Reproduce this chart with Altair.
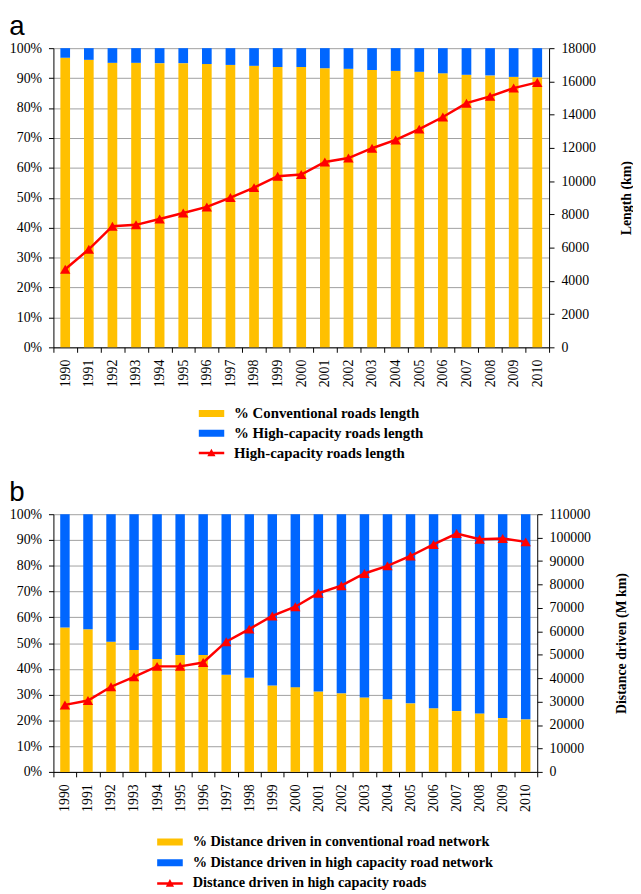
import altair as alt
import pandas as pd

years = ["1990", "1991", "1992", "1993", "1994", "1995", "1996", "1997", "1998", "1999", "2000",
         "2001", "2002", "2003", "2004", "2005", "2006", "2007", "2008", "2009", "2010"]

# Panel a
conv_len_pct = [96.8, 96.1, 95.1, 95.1, 95.0, 95.0, 94.7, 94.4, 94.1, 93.7, 93.7,
                93.3, 93.1, 92.7, 92.4, 92.1, 91.6, 91.1, 90.9, 90.4, 90.3]
high_len_pct = [3.2, 3.9, 4.9, 4.9, 5.0, 5.0, 5.3, 5.6, 5.9, 6.3, 6.3,
                6.7, 6.9, 7.3, 7.6, 7.9, 8.4, 8.9, 9.1, 9.6, 9.7]
high_len_km = [4700, 5900, 7290, 7370, 7720, 8080, 8450, 9010, 9610, 10300, 10400,
               11150, 11390, 11980, 12480, 13130, 13860, 14690, 15100, 15600, 15940]
names_a = ["% Conventional roads length", "% High-capacity roads length", "High-capacity roads length"]

# Panel b
conv_dist_pct = [56.0, 55.4, 50.5, 47.3, 43.8, 45.4, 45.4, 37.7, 36.5, 33.5, 32.9,
                 31.2, 30.5, 28.9, 28.2, 26.6, 24.7, 23.6, 22.7, 20.9, 20.4]
high_dist_pct = [44.0, 44.6, 49.5, 52.7, 56.2, 54.6, 54.6, 62.3, 63.5, 66.5, 67.1,
                 68.8, 69.5, 71.1, 71.8, 73.4, 75.3, 76.4, 77.3, 79.1, 79.6]
high_dist_mkm = [28600, 30450, 36360, 40570, 45050, 45050, 46700, 55590, 60950, 66560, 70500,
                 76260, 79500, 84700, 87940, 92160, 97090, 101730, 99330, 99610, 98190]
names_b = ["% Distance driven in conventional road network",
           "% Distance driven in high capacity road network",
           "Distance driven in high capacity roads"]

pct_ticks = [0, 0.1, 0.2, 0.3, 0.4, 0.5, 0.6, 0.7, 0.8, 0.9, 1.0]
len_ticks = [0, 2000, 4000, 6000, 8000, 10000, 12000, 14000, 16000, 18000]
dist_ticks = [0, 10000, 20000, 30000, 40000, 50000, 60000, 70000, 80000, 90000, 100000, 110000]

YELLOW = "#FFC000"
BLUE = "#0066FF"
RED = "#FF0000"
SERIF = "Liberation Serif"
RECT = "M-1,-0.27L1,-0.27L1,0.27L-1,0.27Z"
LINESYM = "M-1,-0.09L1,-0.09L1,0.09L-1,0.09Z M-0.32,0.26L0,-0.34L0.32,0.26Z"


def panel(letter, conv, high, vals, names, width, height, ymax, yticks, ytitle,
          legx, legy, labsize, rowpad, tpad):
    n = len(years)
    bars_df = pd.DataFrame({
        "year": years + years,
        "series": [names[0]] * n + [names[1]] * n,
        "pct": [v / 100 for v in conv] + [v / 100 for v in high],
        "ord": [0] * n + [1] * n,
    })
    line_df = pd.DataFrame({"year": years, "val": vals, "series": [names[2]] * n})

    x = alt.X("year:N", title=None, sort=years,
              scale=alt.Scale(paddingInner=0, paddingOuter=0),
              axis=alt.Axis(labelAngle=270, tickBand="extent", grid=False,
                            labelPadding=7, tickSize=5))
    legend = alt.Legend(title=None, orient="none", legendX=legx, legendY=legy,
                        labelFont=SERIF, labelFontSize=labsize, labelFontWeight="bold",
                        labelColor="black", labelLimit=0, symbolSize=676, labelOffset=10,
                        clipHeight=16, rowPadding=rowpad, symbolStrokeWidth=0, padding=0)
    color = alt.Color("series:N", scale=alt.Scale(domain=names, range=[YELLOW, BLUE, RED]),
                      legend=legend)
    bars = alt.Chart(bars_df).mark_bar(width=alt.RelativeBandSize(0.41)).encode(
        x=x,
        y=alt.Y("pct:Q", stack="zero", title=None,
                scale=alt.Scale(domain=[0, 1], nice=False),
                axis=alt.Axis(format=".0%", values=pct_ticks, grid=True, gridColor="#a0a0a0",
                              tickSize=5, labelPadding=7)),
        color=color,
        order=alt.Order("ord:Q"),
    )
    base = alt.Chart(line_df).encode(
        x=x,
        y=alt.Y("val:Q", title=ytitle,
                scale=alt.Scale(domain=[0, ymax], nice=False),
                axis=alt.Axis(orient="right", values=yticks, grid=False, tickSize=5,
                              labelPadding=7, titleAngle=270, titleBaseline="top",
                              titlePadding=tpad, format="d")),
    )
    ln = base.mark_line(color=RED, strokeWidth=2.5)
    pts = base.mark_point(shape="triangle-up", filled=True, color=RED, size=110, opacity=1)
    dummy = base.transform_filter("false").mark_point(filled=True, opacity=1).encode(
        color=color,
        shape=alt.Shape("series:N", scale=alt.Scale(domain=names, range=[RECT, RECT, LINESYM]),
                        legend=legend),
    )
    return alt.layer(bars, alt.layer(ln, pts, dummy)).resolve_scale(y="independent").properties(
        width=width, height=height,
        title=alt.TitleParams(letter, anchor="start", fontSize=28, font="Liberation Sans",
                              fontWeight="normal", color="black", offset=0),
    )


top = panel("a", conv_len_pct, high_len_pct, high_len_km, names_a, 502, 303, 18000,
            len_ticks, "Length (km)", 147, 362, 15, 4, 24)
bottom = panel("b", conv_dist_pct, high_dist_pct, high_dist_mkm, names_b, 490, 261, 110000,
               dist_ticks, "Distance driven (M km)", 105, 324, 14.5, 5, 24)

chart = alt.vconcat(top, bottom, spacing=19).resolve_scale(
    color="independent", shape="independent"
).resolve_legend(color="independent", shape="independent").properties(
    padding={"left": 1, "top": 0, "right": 0, "bottom": 0}
).configure_view(stroke=None).configure_axis(
    labelFont=SERIF, labelFontSize=14, labelColor="black",
    titleFont=SERIF, titleFontSize=14, titleFontWeight="bold", titleColor="black",
    domainColor="black", tickColor="black",
)

chart.save("out.html", embed_options={"renderer": "svg", "actions": False})
